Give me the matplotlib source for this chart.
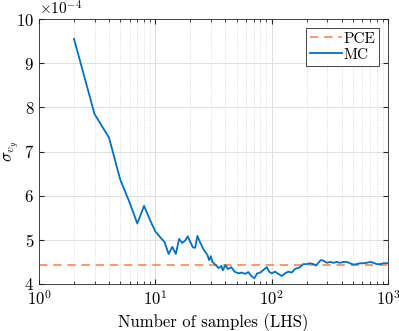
import matplotlib
matplotlib.use("Agg")
import matplotlib.pyplot as plt
import numpy as np

# datos (sigma en unidades de 1e-4)
n_muestras = [2, 3, 4, 5, 6, 7, 8, 9, 10, 11, 12, 13, 14, 15, 16, 17, 18, 19, 20,
              21, 22, 23, 24, 26, 28, 29, 30, 31, 33, 35, 37, 38, 40, 42, 45, 48,
              52, 55, 59, 63, 67, 71, 75, 80, 85, 91, 95, 100, 107, 114, 122, 130,
              139, 149, 159, 175, 187, 200, 214, 228, 241, 252, 264, 278, 298, 318,
              339, 363, 387, 414, 442, 472, 504, 539, 576, 615, 657, 702, 749, 801,
              855, 913, 1000]
sigma_mc = [9.55, 7.85, 7.31, 6.36, 5.85, 5.37, 5.77, 5.45, 5.19, 5.06, 4.95, 4.68,
            4.84, 4.68, 5.02, 4.93, 4.98, 5.08, 4.95, 4.83, 4.82, 5.09, 4.97, 4.78,
            4.66, 4.54, 4.63, 4.50, 4.43, 4.36, 4.41, 4.31, 4.43, 4.34, 4.38, 4.28,
            4.24, 4.26, 4.23, 4.27, 4.18, 4.13, 4.24, 4.26, 4.32, 4.38, 4.28, 4.24,
            4.28, 4.23, 4.18, 4.24, 4.28, 4.26, 4.34, 4.38, 4.45, 4.45, 4.47, 4.45,
            4.42, 4.48, 4.54, 4.53, 4.48, 4.50, 4.48, 4.50, 4.48, 4.50, 4.50, 4.47,
            4.44, 4.45, 4.47, 4.47, 4.48, 4.50, 4.48, 4.45, 4.45, 4.47, 4.47]
sigma_pce = 4.44
escala = 1e-4

plt.rcParams['font.family'] = 'cmr10'
plt.rcParams['mathtext.fontset'] = 'cm'
plt.rcParams['axes.formatter.use_mathtext'] = True

fig = plt.figure(figsize=(3.99, 3.31), dpi=100)
ax = fig.add_axes([39 / 399, 1 - 284 / 331, 349 / 399, 265 / 331])

x = np.array(n_muestras)
y = np.array(sigma_mc) * escala
ax.plot([1, 1000], [sigma_pce * escala] * 2, '--', color='#EE8A62', linewidth=1.2,
        dashes=(5, 3.5), label='PCE')
ax.plot(x, y, '-', color='#0072BD', linewidth=1.3, label='MC')

ax.set_xscale('log')
ax.set_xlim(1, 1000)
ax.set_ylim(4e-4, 10e-4)
ax.set_yticks(np.arange(4, 11) * escala)
ax.ticklabel_format(axis='y', style='sci', scilimits=(-4, -4))
ax.yaxis.get_offset_text().set_fontsize(11)

ax.grid(True, which='major', color='#DFDFDF', linewidth=0.7)
ax.grid(True, which='minor', color='#D0D0D0', linestyle=':', linewidth=0.6)
ax.set_axisbelow(True)
ax.tick_params(which='both', direction='in', top=True, right=True, labelsize=12,
               color='#262626')
ax.tick_params(which='minor', length=2)
ax.tick_params(which='major', length=3.5)
for s in ax.spines.values():
    s.set_color('#262626')
    s.set_linewidth(0.6)

ax.set_xlabel('Number of samples (LHS)', fontsize=12)
ax.set_ylabel(r'$\sigma_{v_y}$', fontsize=12)
ax.yaxis.set_label_coords(-0.05, 0.5)

leg = ax.legend(loc='upper right', fontsize=11, fancybox=False, framealpha=1,
                edgecolor='#262626', handlelength=2.1, handletextpad=0.1,
                borderpad=0.25, labelspacing=0.15, borderaxespad=0.6)
leg.get_frame().set_linewidth(0.6)

fig.savefig('out.png', dpi=100)
